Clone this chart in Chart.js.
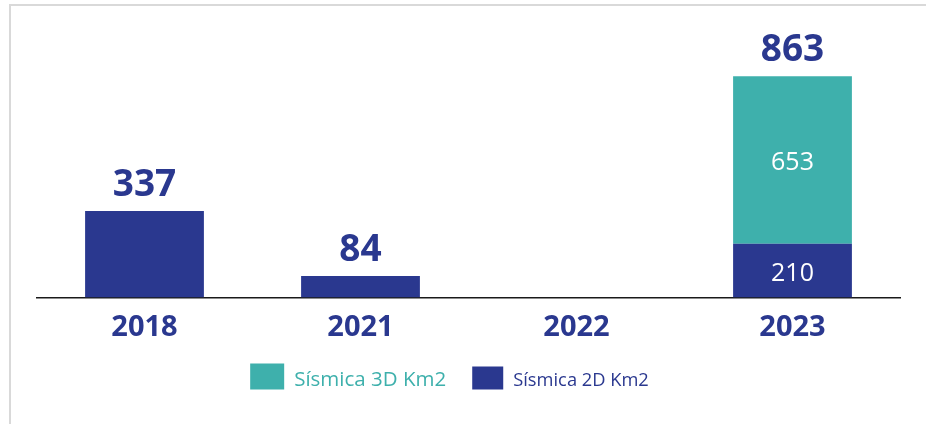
<!DOCTYPE html>
<html>
<head>
<meta charset="utf-8">
<script src="https://cdn.jsdelivr.net/npm/chart.js@4/dist/chart.umd.min.js"></script>
<style>
  html, body { margin: 0; padding: 0; background: #fff; }
  #wrap { position: relative; width: 926px; height: 424px; }
  #frame { position: absolute; left: 9px; top: 4px; right: 0; bottom: 0;
           border-left: 2px solid #d9d9d9; border-top: 2px solid #d9d9d9; }
  #chart { position: absolute; left: 0; top: 0; }
</style>
</head>
<body>
<div id="wrap">
  <div id="frame"></div>
  <canvas id="chart" width="926" height="424"></canvas>
</div>
<script>
// Chart data
const years = ['2018', '2021', '2022', '2023'];
const seismic2D = [337, 84, 0, 210];
const seismic3D = [0, 0, 0, 653];
const seriesNames = ['Sísmica 2D Km2', 'Sísmica 3D Km2'];

const NAVY = '#2a388f';
const TEAL = '#3eb0ac';
const FONT = "'Open Sans', sans-serif";

// Draws totals above each stack and segment values inside multi-part stacks
const valueLabels = {
    id: 'valueLabels',
    afterDatasetsDraw(chart) {
        const { ctx } = chart;
        const metas = chart.data.datasets.map((_, i) => chart.getDatasetMeta(i));
        ctx.save();
        ctx.textAlign = 'center';
        years.forEach((_, idx) => {
            const values = chart.data.datasets.map(ds => ds.data[idx]);
            const total = values.reduce((a, b) => a + b, 0);
            if (!total) return;
            const parts = values.filter(v => v > 0).length;

            // topmost non-empty segment
            let topY = Infinity, x = 0;
            metas.forEach((m, di) => {
                if (values[di] > 0) {
                    const el = m.data[idx];
                    if (el.y < topY) { topY = el.y; x = el.x; }
                }
            });
            ctx.fillStyle = NAVY;
            ctx.font = `bold 37px ${FONT}`;
            ctx.textBaseline = 'alphabetic';
            ctx.fillText(String(total), x, topY - 15);

            if (parts > 1) {
                ctx.fillStyle = '#ffffff';
                ctx.font = `25px ${FONT}`;
                metas.forEach((m, di) => {
                    if (values[di] > 0) {
                        const el = m.data[idx];
                        const mid = (el.y + el.base) / 2;
                        ctx.fillText(String(values[di]), el.x, mid + 10.5);
                    }
                });
            }
        });
        ctx.restore();
    }
};

// Legend under the axis, 3D first; the 2D entry is a touch smaller as in the source
const bottomLegend = {
    id: 'bottomLegend',
    afterDraw(chart) {
        const { ctx, chartArea } = chart;
        const items = chart.data.datasets.slice().reverse();
        const styles = [
            { box: [34, 26], size: 20.5 },
            { box: [31, 23], size: 18.3 }
        ];
        const baseline = chartArea.bottom + 88;
        const gap = 10, spacing = 26;
        ctx.save();
        ctx.textBaseline = 'alphabetic';
        ctx.textAlign = 'left';
        let widths = items.map((ds, i) => {
            ctx.font = `${styles[i].size}px ${FONT}`;
            return styles[i].box[0] + gap + ctx.measureText(ds.label).width;
        });
        const total = widths.reduce((a, b) => a + b, 0) + spacing * (items.length - 1);
        let x = (chartArea.left + chartArea.right) / 2 - 19 - total / 2;
        items.forEach((ds, i) => {
            const [bw, bh] = styles[i].box;
            ctx.fillStyle = ds.backgroundColor;
            ctx.fillRect(x, baseline + 4 - bh, bw, bh);
            ctx.font = `${styles[i].size}px ${FONT}`;
            ctx.fillText(ds.label, x + bw + gap, baseline);
            x += widths[i] + spacing;
        });
        ctx.restore();
    }
};

new Chart(document.getElementById('chart').getContext('2d'), {
    type: 'bar',
    data: {
        labels: years,
        datasets: [
            { label: seriesNames[0], data: seismic2D, backgroundColor: NAVY },
            { label: seriesNames[1], data: seismic3D, backgroundColor: TEAL }
        ]
    },
    options: {
        responsive: false,
        animation: false,
        datasets: { bar: { barPercentage: 0.55, categoryPercentage: 1 } },
        layout: { padding: { left: 36.5, right: 25.5, top: 41, bottom: 65.7 } },
        scales: {
            x: {
                stacked: true,
                grid: { display: false, drawTicks: false },
                border: { display: true, color: '#1a1a1a', width: 1.5 },
                ticks: { color: NAVY, padding: 13, font: { family: FONT, size: 29, weight: 'bold' } }
            },
            y: { stacked: true, display: false, min: 0, max: 1000 }
        },
        plugins: {
            tooltip: { enabled: false },
            legend: { display: false }
        }
    },
    plugins: [valueLabels, bottomLegend]
});
</script>
</body>
</html>
